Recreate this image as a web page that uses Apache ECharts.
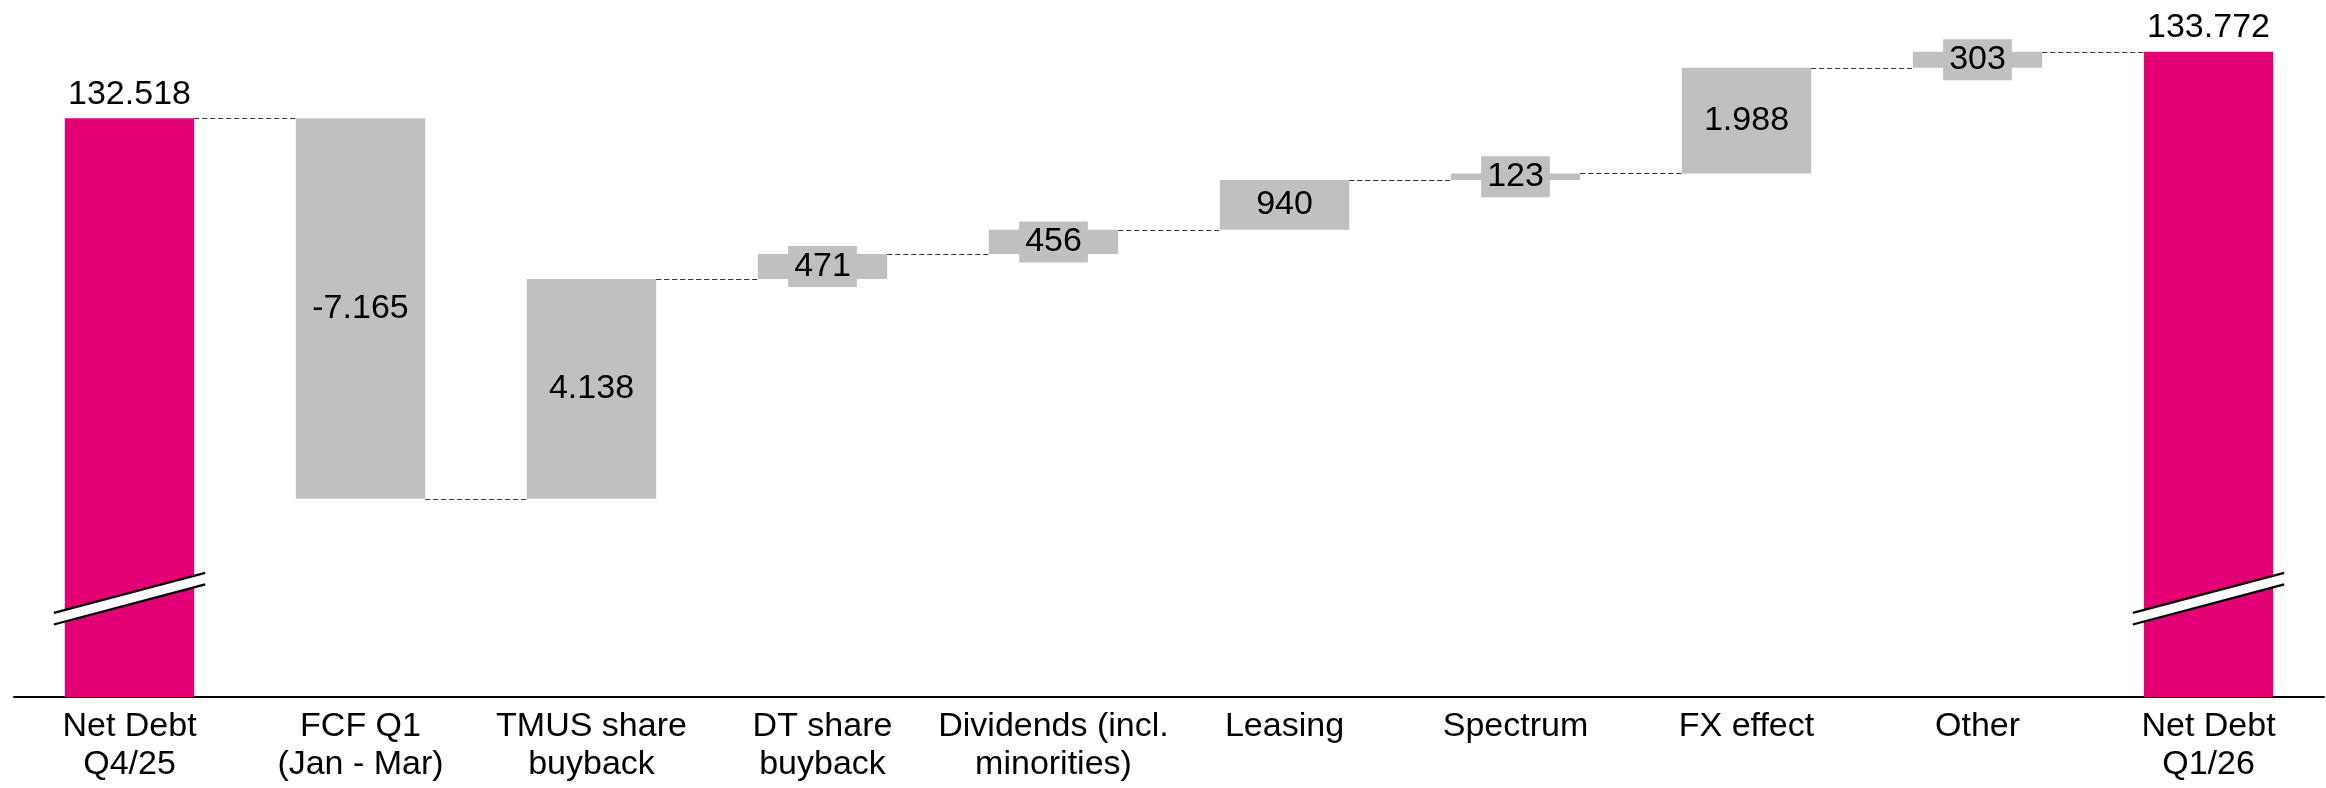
<!DOCTYPE html>
<html>
<head>
<meta charset="utf-8">
<script src="https://cdn.jsdelivr.net/npm/echarts@6.0.0/dist/echarts.min.js"></script>
<style>
  html, body { margin: 0; padding: 0; background: #ffffff; }
  #chart { width: 2326px; height: 788px; }
</style>
</head>
<body>
<div id="chart"></div>
<script>
// ---- Data (EUR million) ----
const categories = [
  'Net Debt\nQ4/25',
  'FCF Q1\n(Jan - Mar)',
  'TMUS share\nbuyback',
  'DT share\nbuyback',
  'Dividends (incl.\nminorities)',
  'Leasing',
  'Spectrum',
  'FX effect',
  'Other',
  'Net Debt\nQ1/26'
];
const startTotal = 132518;
const changes = [-7165, 4138, 471, 456, 940, 123, 1988, 303];
const endTotal = 133772;
const axisMin = 121618;
const axisMax = 134747;
const breakAt = 123470;

// ---- Derived waterfall series ----
function fmt(v) {
  const s = Math.abs(v).toString().replace(/\B(?=(\d{3})+(?!\d))/g, '.');
  return (v < 0 ? '-' : '') + s;
}
const baseData = ['-'];
const deltaData = ['-'];
const totalData = [startTotal];
const connectors = [[0, startTotal]];
let running = startTotal;
changes.forEach(function (c, k) {
  const i = k + 1;
  if (c >= 0) { baseData.push(running); deltaData.push(c); }
  else { baseData.push(running + c); deltaData.push(-c); }
  totalData.push('-');
  running += c;
  connectors.push([i, running]);
});
baseData.push('-');
deltaData.push('-');
totalData.push(endTotal);
const deltaLabels = ['', ...changes.map(fmt), ''];

const BAR_RATIO = 0.56;
const FONT = '"Liberation Sans", Arial, sans-serif';

const chart = echarts.init(document.getElementById('chart'), null, { renderer: 'canvas' });
chart.setOption({
  animation: false,
  backgroundColor: '#ffffff',
  grid: { left: 14, right: 2, top: 0, bottom: 91, containLabel: false, outerBoundsMode: 'none' },
  xAxis: {
    type: 'category',
    data: categories,
    axisLine: { show: true, lineStyle: { color: '#000000', width: 2 } },
    axisTick: { show: false },
    axisLabel: {
      interval: 0,
      margin: 11,
      color: '#000000',
      fontFamily: FONT,
      fontSize: 34,
      lineHeight: 38,
      align: 'center'
    },
    splitLine: { show: false }
  },
  yAxis: {
    type: 'value',
    min: axisMin,
    max: axisMax,
    show: false,
    splitLine: { show: false }
  },
  series: [
    {
      name: 'base',
      type: 'bar',
      stack: 'w',
      barWidth: (BAR_RATIO * 100) + '%',
      data: baseData,
      itemStyle: { color: 'rgba(0,0,0,0)' },
      emphasis: { disabled: true },
      silent: true,
      clip: true
    },
    {
      name: 'delta',
      type: 'bar',
      stack: 'w',
      barWidth: (BAR_RATIO * 100) + '%',
      data: deltaData,
      itemStyle: { color: '#c0c0c0' },
      emphasis: { disabled: true },
      clip: true,
      label: {
        show: true,
        position: 'inside',
        formatter: function (p) { return deltaLabels[p.dataIndex]; },
        color: '#000000',
        fontFamily: FONT,
        fontSize: 34,
        lineHeight: 34,
        backgroundColor: '#c0c0c0',
        padding: [4, 6, 3, 6]
      }
    },
    {
      name: 'total',
      type: 'bar',
      stack: 'w',
      barWidth: (BAR_RATIO * 100) + '%',
      data: totalData,
      itemStyle: { color: '#e20074' },
      emphasis: { disabled: true },
      clip: true,
      label: {
        show: true,
        position: 'top',
        distance: 7,
        formatter: function (p) { return fmt(p.value); },
        color: '#000000',
        fontFamily: FONT,
        fontSize: 34,
        lineHeight: 34
      }
    },
    {
      name: 'connectors',
      type: 'custom',
      silent: true,
      z: 3,
      data: connectors,
      renderItem: function (params, api) {
        const idx = api.value(0);
        const p = api.coord([idx, api.value(1)]);
        const band = api.size([1, 0])[0];
        const bw = band * BAR_RATIO;
        const y = Math.round(p[1]) + 0.5;
        return {
          type: 'line',
          shape: { x1: p[0] + bw / 2, y1: y, x2: p[0] + band - bw / 2, y2: y },
          style: { stroke: '#333333', lineWidth: 1.2, lineDash: [5, 3] }
        };
      }
    },
    {
      name: 'breaks',
      type: 'custom',
      silent: true,
      z: 4,
      clip: false,
      data: [[0, breakAt], [9, breakAt]],
      renderItem: function (params, api) {
        const c = api.coord([api.value(0), api.value(1)]);
        const band = api.size([1, 0])[0];
        const half = band * BAR_RATIO / 2 + 11;
        const slope = 0.265;
        const gap = 5.8;
        const xl = c[0] - half, xr = c[0] + half;
        const yl = c[1] + half * slope, yr = c[1] - half * slope;
        return {
          type: 'group',
          children: [
            {
              type: 'polygon',
              shape: { points: [[xl, yl - gap], [xr, yr - gap], [xr, yr + gap], [xl, yl + gap]] },
              style: { fill: '#ffffff' }
            },
            {
              type: 'line',
              shape: { x1: xl, y1: yl - gap, x2: xr, y2: yr - gap },
              style: { stroke: '#000000', lineWidth: 2.2 }
            },
            {
              type: 'line',
              shape: { x1: xl, y1: yl + gap, x2: xr, y2: yr + gap },
              style: { stroke: '#000000', lineWidth: 2.2 }
            }
          ]
        };
      }
    }
  ]
});
</script>
</body>
</html>
